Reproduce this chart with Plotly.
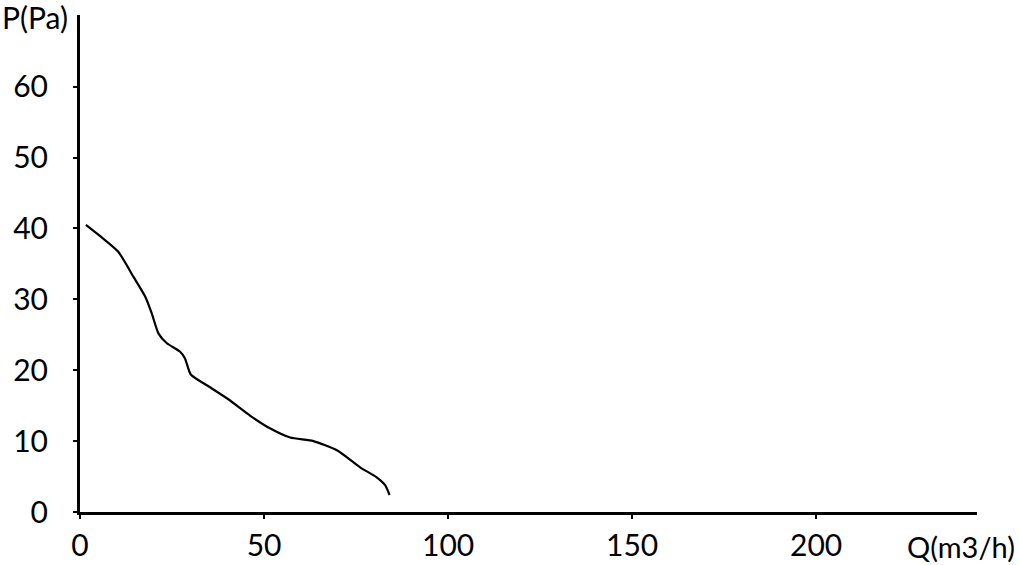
import plotly.graph_objects as go

flow = [1.6, 5.5, 10.4, 14.5, 17.7, 19.5, 21.3, 23.6, 27.2, 28.5, 30.1, 35.0, 40.3, 46.2, 51.6, 57.1, 63.4, 69.8, 76.1, 80.6, 82.9, 84.1]
pressure = [40.5, 38.9, 36.7, 33.2, 30.4, 28.0, 25.2, 23.8, 22.6, 21.7, 19.4, 17.7, 15.9, 13.6, 11.8, 10.5, 10.0, 8.7, 6.3, 4.9, 3.8, 2.4]
x_ticks = [0, 50, 100, 150, 200]
y_ticks = [0, 10, 20, 30, 40, 50, 60]

FONT = "Lato"
fig = go.Figure()
fig.add_trace(go.Scatter(x=flow, y=pressure, mode="lines",
                         line=dict(color="black", width=2.2, shape="spline", smoothing=0.6),
                         hoverinfo="skip", showlegend=False))

fig.update_layout(
    width=1019, height=565,
    margin=dict(l=80, r=42, t=15, b=53, autoexpand=False),
    paper_bgcolor="white", plot_bgcolor="white",
    font=dict(family=FONT, size=30, color="black"),
    xaxis=dict(range=[0, 243.7], tickvals=x_ticks, showgrid=False, zeroline=False,
               showline=True, linecolor="black", linewidth=3, automargin=False,
               ticks="outside", ticklen=4, tickwidth=2, tickcolor="black",
               ticklabelstandoff=1),
    yaxis=dict(range=[0, 70.1], tickvals=y_ticks, showgrid=False, zeroline=False,
               showline=True, linecolor="black", linewidth=3, automargin=False,
               ticks="outside", ticklen=4, tickwidth=2, tickcolor="black",
               ticklabelstandoff=19),
    annotations=[
        dict(text="P(Pa)", xref="paper", yref="paper", x=-80/897, y=1 - 2/497,
             xanchor="left", yanchor="middle", showarrow=False, font=dict(size=30)),
        dict(text="Q(m3/h)", xref="paper", yref="paper", x=1 + 39/897, y=-34/497,
             xanchor="right", yanchor="middle", showarrow=False, borderpad=0,
             font=dict(size=29)),
    ],
)
fig.write_html("out.html", config={"displayModeBar": False},
               post_script="document.body.style.margin='0';document.body.style.overflow='hidden';")
